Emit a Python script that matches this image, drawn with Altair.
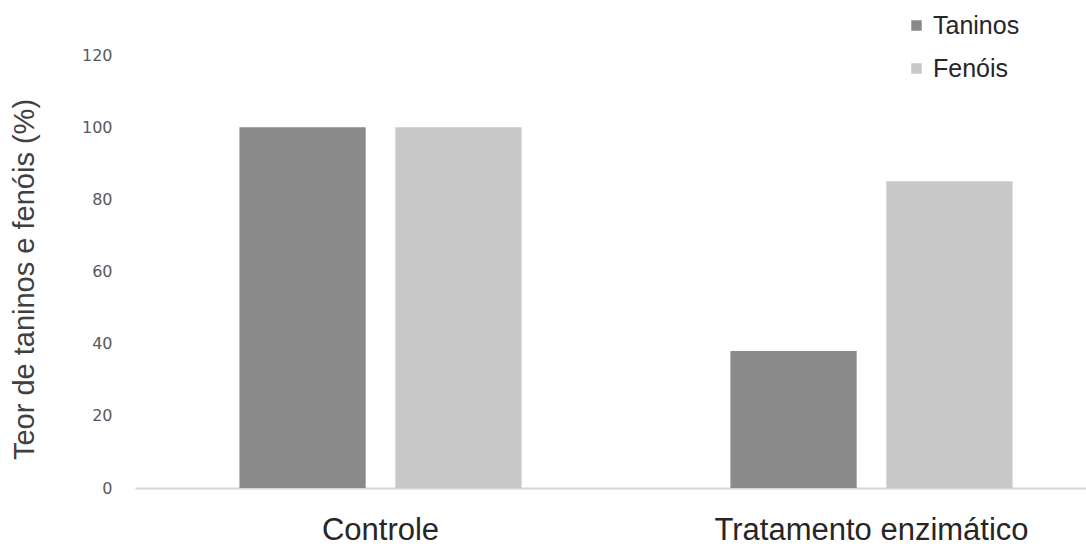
import altair as alt
import pandas as pd

# Teor relativo (%) de taninos e fenóis em cada grupo
grupos = ["Controle", "Controle", "Tratamento enzimático", "Tratamento enzimático"]
series = ["Taninos", "Fenóis", "Taninos", "Fenóis"]
teores = [100, 100, 38, 85]

ordem_grupos = ["Controle", "Tratamento enzimático"]
ordem_series = ["Taninos", "Fenóis"]
cores = ["#8a8a8a", "#c8c8c8"]
y_ticks = [0, 20, 40, 60, 80, 100, 120]

df = pd.DataFrame({"grupo": grupos, "serie": series, "teor": teores})

chart = (
    alt.Chart(df)
    .mark_bar()
    .encode(
        x=alt.X(
            "grupo:N",
            sort=ordem_grupos,
            scale=alt.Scale(range=[0, 982], paddingInner=0, paddingOuter=0),
            axis=alt.Axis(
                title=None,
                labelAngle=0,
                labelFont="Liberation Sans",
                labelFontSize=31,
                labelColor="#262626",
                labelPadding=27,
                labelLimit=500,
                ticks=False,
                domainColor="#d6d6d6",
                domainWidth=2,
            ),
        ),
        xOffset=alt.XOffset(
            "serie:N",
            sort=ordem_series,
            scale=alt.Scale(paddingInner=0.19, paddingOuter=0.67),
        ),
        y=alt.Y(
            "teor:Q",
            scale=alt.Scale(domain=[0, 120]),
            axis=alt.Axis(
                values=y_ticks,
                grid=False,
                domain=False,
                ticks=False,
                labelFont="DejaVu Sans",
                labelFontSize=16,
                labelColor="#595959",
                labelPadding=23,
                title="Teor de taninos e fenóis (%)",
                titleFont="Liberation Sans",
                titleFontSize=29,
                titleFontWeight="normal",
                titleColor="#404040",
                titlePadding=42,
                titleY=224,
            ),
        ),
        color=alt.Color(
            "serie:N",
            sort=ordem_series,
            title=None,
            scale=alt.Scale(domain=ordem_series, range=cores),
            legend=alt.Legend(
                orient="none",
                legendX=769,
                legendY=-42,
                padding=0,
                symbolType="square",
                symbolSize=110,
                symbolStrokeWidth=0,
                labelFont="Liberation Sans",
                labelFontSize=25,
                labelColor="#262626",
                labelOffset=4,
                rowPadding=17,
            ),
        ),
    )
    .properties(
        width=949,
        height=433,
        autosize=alt.AutoSizeParams(type="none"),
        padding={"left": 135, "top": 55, "right": 2, "bottom": 66},
    )
    .configure_view(strokeWidth=0)
)

chart.save("out.html", embed_options={"renderer": "svg", "actions": False})
